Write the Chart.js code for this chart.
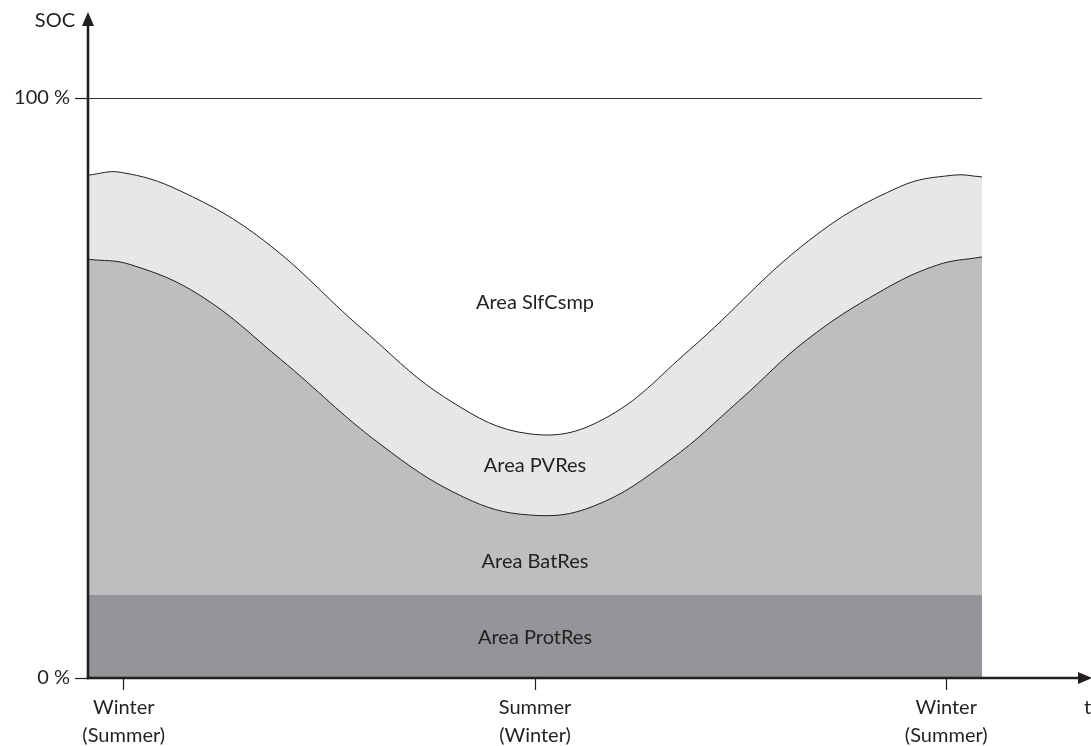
<!DOCTYPE html>
<html>
<head>
<meta charset="utf-8">
<script src="https://cdn.jsdelivr.net/npm/chart.js@4.4.1/dist/chart.umd.min.js"></script>
<style>
  html, body { margin: 0; padding: 0; background: #ffffff; }
  #wrap { width: 1091px; height: 746px; position: relative; }
</style>
</head>
<body>
<div id="wrap"><canvas id="c" width="1091" height="746"></canvas></div>
<script>
// ---- data (time in % of the year span, SOC in %) ----
const pvTopX   = [0, 3.6, 10.3, 19.6, 30.8, 40.5, 49.4, 57.5, 67.3, 80.7, 90.8, 96.8, 100];
const pvTopY   = [86.7, 87.2, 84.0, 75.5, 60.0, 47.8, 42.1, 44.5, 56.6, 75.5, 84.7, 86.7, 86.4];
const batTopX  = [0, 4.7, 12.5, 21.5, 32.7, 42.0, 49.4, 56.5, 65.1, 72.9, 80.4, 88.6, 95.0, 100];
const batTopY  = [72.2, 71.3, 66.0, 55.0, 40.3, 31.2, 28.1, 29.6, 37.6, 47.9, 58.3, 66.6, 71.2, 72.6];
const protX    = [0, 100];
const protY    = [14.3, 14.3];
const xTickValues = [4, 50, 96];
const xTickLabels = [["Winter", "(Summer)"], ["Summer", "(Winter)"], ["Winter", "(Summer)"]];
const yTickValues = [0, 100];
const yTickLabels = ["0 %", "100 %"];
const areaLabels  = ["Area SlfCsmp", "Area PVRes", "Area BatRes", "Area ProtRes"];
const areaLabelX  = [50, 50, 50, 50];
const areaLabelY  = [64.8, 36.6, 20.0, 7.0];
const yAxisTitle = "SOC";
const xAxisTitle = "t";

const INK = '#231f20';
const FONT = 'Lato, "Open Sans", sans-serif';

const pts = (xs, ys) => xs.map((x, i) => ({x: x, y: ys[i]}));

const axesPlugin = {
  id: 'axesArrows',
  afterDraw(chart) {
    const ctx = chart.ctx;
    const xs = chart.scales.x, ys = chart.scales.y;
    const x0 = xs.left, y0 = ys.getPixelForValue(0);
    ctx.save();
    ctx.strokeStyle = INK; ctx.fillStyle = INK; ctx.lineWidth = 2.6;
    // y axis
    ctx.beginPath(); ctx.moveTo(x0, y0 + 1.3); ctx.lineTo(x0, 24); ctx.stroke();
    ctx.beginPath(); ctx.moveTo(x0, 12); ctx.lineTo(x0 - 6, 26); ctx.lineTo(x0 + 6, 26); ctx.closePath(); ctx.fill();
    // x axis
    ctx.beginPath(); ctx.moveTo(x0 - 1.3, y0); ctx.lineTo(1080, y0); ctx.stroke();
    ctx.beginPath(); ctx.moveTo(1092, y0); ctx.lineTo(1078, y0 - 6); ctx.lineTo(1078, y0 + 6); ctx.closePath(); ctx.fill();
    // axis titles
    ctx.font = '20px ' + FONT;
    ctx.textBaseline = 'middle';
    ctx.textAlign = 'right';
    ctx.fillText(yAxisTitle, 75, 21);
    ctx.textAlign = 'left';
    ctx.fillText(xAxisTitle, 1084, 708);
    // area labels
    ctx.textAlign = 'center';
    areaLabels.forEach((t, i) => {
      ctx.fillText(t, xs.getPixelForValue(areaLabelX[i]), ys.getPixelForValue(areaLabelY[i]));
    });
    ctx.restore();
  }
};

new Chart(document.getElementById('c'), {
  type: 'line',
  data: {
    datasets: [
      { label: 'ProtRes', data: pts(protX, protY), fill: 'origin', backgroundColor: '#939598', borderWidth: 0, borderColor: 'rgba(0,0,0,0)', pointRadius: 0 },
      { label: 'BatRes', data: pts(batTopX, batTopY), fill: 'origin', backgroundColor: '#bcbec0', borderColor: INK, borderWidth: 1, pointRadius: 0, tension: 0.4 },
      { label: 'PVRes', data: pts(pvTopX, pvTopY), fill: 'origin', backgroundColor: '#e6e7e8', borderColor: INK, borderWidth: 1, pointRadius: 0, tension: 0.4 }
    ]
  },
  options: {
    responsive: false,
    animation: false,
    devicePixelRatio: 1,
    layout: { padding: { top: 98, right: 109, left: 0, bottom: 0 } },
    plugins: { legend: { display: false }, tooltip: { enabled: false }, title: { display: false } },
    scales: {
      x: {
        type: 'linear', min: 0, max: 100,
        afterFit(s) { s.height = 68; },
        afterBuildTicks(s) { s.ticks = xTickValues.map(v => ({value: v})); },
        border: { display: false },
        grid: { drawOnChartArea: false, drawTicks: true, tickLength: 12, tickColor: INK, tickWidth: 1.2 },
        ticks: {
          autoSkip: false, maxRotation: 0, padding: 4, color: INK,
          font: { family: FONT, size: 20, lineHeight: 1.4 },
          callback(v) { const i = xTickValues.indexOf(v); return i >= 0 ? xTickLabels[i] : ''; }
        }
      },
      y: {
        type: 'linear', min: 0, max: 100,
        afterFit(s) { s.width = 88; },
        afterBuildTicks(s) { s.ticks = yTickValues.map(v => ({value: v})); },
        border: { display: false },
        grid: {
          drawTicks: true, tickLength: 13, tickWidth: 1.2, tickColor: INK,
          color(c) { return c.tick && c.tick.value === 100 ? '#333' : 'rgba(0,0,0,0)'; },
          lineWidth: 1
        },
        ticks: {
          padding: 5, color: INK,
          font: { family: FONT, size: 20 },
          callback(v) { const i = yTickValues.indexOf(v); return i >= 0 ? yTickLabels[i] : ''; }
        }
      }
    }
  },
  plugins: [axesPlugin]
});
</script>
</body>
</html>
